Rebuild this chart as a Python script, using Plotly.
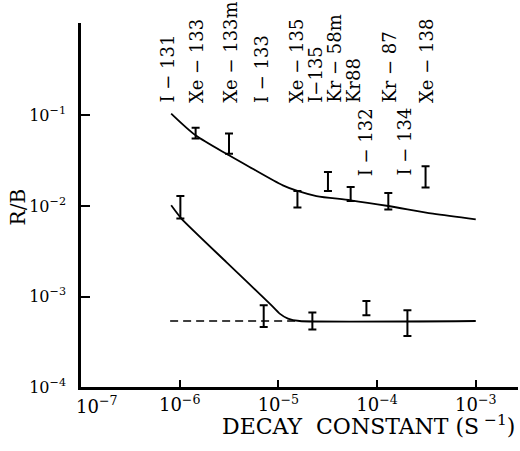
import plotly.graph_objects as go
import numpy as np

# ---------------- data ----------------
# upper curve (total R/B)
upper_x = [8.2e-7, 1.45e-6, 3.16e-6, 5.1e-6, 1.11e-5, 1.56e-5, 2.43e-5, 5.4e-5, 1.3e-4, 3.68e-4, 1.0e-3]
upper_y = [0.105, 0.0604, 0.0363, 0.0270, 0.0169, 0.01466, 0.01288, 0.01156, 0.0100, 0.00824, 0.00713]

# lower curve (solid part)
lower_x = [8.2e-7, 1.04e-6, 2.97e-6, 8.17e-6, 1.03e-5, 1.25e-5, 1.64e-5, 1.0e-3]
lower_y = [0.01018, 0.00726, 0.0024, 8.36e-4, 6.47e-4, 5.7e-4, 5.36e-4, 5.36e-4]

# lower curve dashed extension
dash_x = [8.0e-7, 1.64e-5]
dash_y = [5.36e-4, 5.36e-4]

# measured points with error ranges (upper group)
up_pts_x = [1.45e-6, 3.16e-6, 1.56e-5, 3.18e-5, 5.4e-5, 1.3e-4, 3.1e-4]
up_pts_lo = [0.0556, 0.0379, 0.0096, 0.01466, 0.01135, 0.00913, 0.01597]
up_pts_hi = [0.0734, 0.0631, 0.01466, 0.0238, 0.01622, 0.01392, 0.0275]

# measured points with error ranges (lower group)
lo_pts_x = [1.016e-6, 7.1e-6, 2.21e-5, 7.8e-5, 2.03e-4]
lo_pts_lo = [0.00726, 4.6e-4, 4.31e-4, 6.2e-4, 3.66e-4]
lo_pts_hi = [0.01289, 8.0e-4, 6.64e-4, 8.9e-4, 7.04e-4]

# nuclide labels (decay constant positions)
top_labels = ["I − 131", "Xe − 133", "Xe − 133m", "I − 133", "Xe − 135", "I−135",
              "Kr − 58m", "Kr88", "Kr − 87", "Xe − 138"]
top_lambda = [7.6e-7, 1.48e-6, 3.21e-6, 6.73e-6, 1.52e-5, 2.33e-5, 3.63e-5, 5.7e-5, 1.34e-4, 3.16e-4]
low_labels = ["I − 132", "I − 134"]
low_lambda = [7.8e-5, 1.9e-4]

x_tickvals = [1e-7, 1e-6, 1e-5, 1e-4, 1e-3]
x_ticktext = ["", "10<sup>−6</sup>", "10<sup>−5</sup>", "10<sup>−4</sup>", "10<sup>−3</sup>"]
x_first_label = "10<sup>−7</sup>"
y_tickvals = [1e-4, 1e-3, 1e-2, 1e-1]
y_ticktext = ["10<sup>−4</sup>", "10<sup>−3</sup>", "10<sup>−2</sup>", "10<sup>−1</sup>"]

FONT = "DejaVu Serif"

fig = go.Figure()

fig.add_trace(go.Scatter(x=upper_x, y=upper_y, mode="lines",
                         line=dict(color="black", width=1.8, shape="spline", smoothing=0.8),
                         showlegend=False, hoverinfo="skip"))
fig.add_trace(go.Scatter(x=lower_x, y=lower_y, mode="lines",
                         line=dict(color="black", width=1.8, shape="spline", smoothing=0.5),
                         showlegend=False, hoverinfo="skip"))
fig.add_trace(go.Scatter(x=dash_x, y=dash_y, mode="lines",
                         line=dict(color="black", width=1.6, dash="8px,5px"),
                         showlegend=False, hoverinfo="skip"))


def add_err(xs, lo, hi):
    lo = np.array(lo)
    hi = np.array(hi)
    mid = np.sqrt(lo * hi)
    fig.add_trace(go.Scatter(
        x=xs, y=mid, mode="markers",
        marker=dict(size=1, color="rgba(0,0,0,0)"),
        error_y=dict(type="data", symmetric=False, array=hi - mid, arrayminus=mid - lo,
                     color="black", thickness=2, width=4),
        showlegend=False, hoverinfo="skip"))


add_err(up_pts_x, up_pts_lo, up_pts_hi)
add_err(lo_pts_x, lo_pts_lo, lo_pts_hi)

annotations = []
for t, lam in zip(top_labels, top_lambda):
    annotations.append(dict(x=np.log10(lam), y=-0.88, xref="x", yref="y", text=t,
                            textangle=-90, showarrow=False, xanchor="center", yanchor="bottom",
                            font=dict(family=FONT, size=18, color="black")))
for t, lam in zip(low_labels, low_lambda):
    annotations.append(dict(x=np.log10(lam), y=-1.69, xref="x", yref="y", text=t,
                            textangle=-90, showarrow=False, xanchor="center", yanchor="bottom",
                            font=dict(family=FONT, size=18, color="black")))
annotations.append(dict(x=-0.142, y=0.496, xref="paper", yref="paper", text="R/B",
                        showarrow=False, textangle=-90, xanchor="center", yanchor="middle",
                        font=dict(family=FONT, size=20, color="black")))
annotations.append(dict(x=0.998, y=-0.105, xref="paper", yref="paper",
                        text="DECAY  CONSTANT (S<sup> −1</sup>)", showarrow=False,
                        xanchor="right", yanchor="middle",
                        font=dict(family=FONT, size=22, color="black")))
annotations.append(dict(x=-7, y=0, xref="x", yref="paper", text=x_first_label,
                        showarrow=False, xanchor="center", yanchor="top", xshift=15, yshift=-4,
                        font=dict(family=FONT, size=18, color="black")))

fig.update_layout(
    width=520, height=451,
    margin=dict(l=81, r=2, t=23, b=64),
    paper_bgcolor="white", plot_bgcolor="white",
    font=dict(family=FONT, size=18, color="black"),
    annotations=annotations,
)
fig.update_xaxes(type="log", range=[-7, -2.572], showgrid=False, zeroline=False,
                 showline=True, linecolor="black", linewidth=2.5,
                 ticks="inside", ticklen=7, tickwidth=2, tickcolor="black",
                 tickvals=x_tickvals, ticktext=x_ticktext,
                 tickfont=dict(family=FONT, size=18, color="black"))
fig.update_yaxes(type="log", range=[-4, 0.022], showgrid=False, zeroline=False,
                 showline=True, linecolor="black", linewidth=2.5,
                 ticks="inside", ticklen=9, tickwidth=2, tickcolor="black",
                 tickvals=y_tickvals, ticktext=y_ticktext, ticklabelstandoff=9,
                 tickfont=dict(family=FONT, size=16, color="black"))

fig.write_html("out.html", config={"displayModeBar": False},
               post_script="document.body.style.margin='0';document.body.style.padding='0';")
